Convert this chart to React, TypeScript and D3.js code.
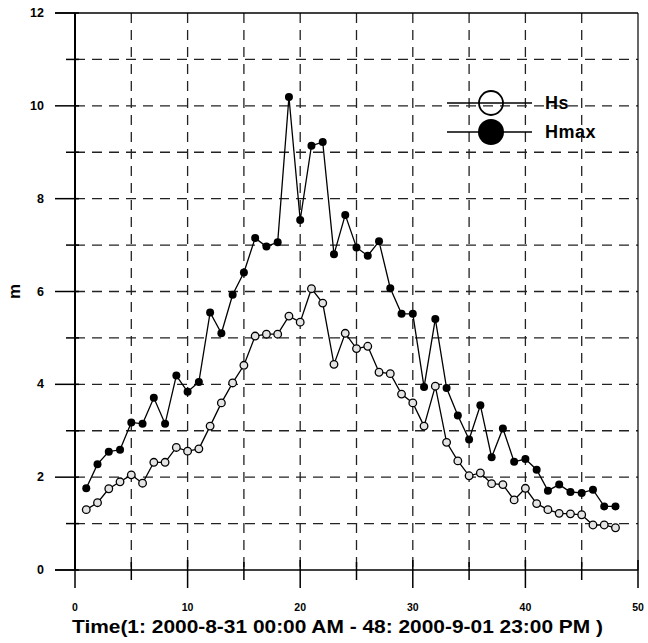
import * as d3 from "d3";

const hours = d3.range(1, 49);

const hmax = [
  1.76, 2.28, 2.55, 2.59, 3.18, 3.15, 3.71, 3.15, 4.19, 3.84,
  4.05, 5.55, 5.1, 5.93, 6.41, 7.15, 6.97, 7.06, 10.19, 7.54,
  9.14, 9.22, 6.8, 7.65, 6.95, 6.77, 7.08, 6.07, 5.52, 5.52,
  3.94, 5.41, 3.92, 3.33, 2.81, 3.55, 2.43, 3.05, 2.33, 2.39,
  2.16, 1.71, 1.84, 1.68, 1.66, 1.73, 1.37, 1.37,
];

const hs = [
  1.3, 1.45, 1.75, 1.9, 2.05, 1.87, 2.32, 2.32, 2.64, 2.56,
  2.61, 3.1, 3.6, 4.03, 4.41, 5.04, 5.08, 5.08, 5.47, 5.34,
  6.06, 5.75, 4.43, 5.1, 4.77, 4.82, 4.26, 4.23, 3.79, 3.6,
  3.1, 3.96, 2.75, 2.35, 2.03, 2.09, 1.86, 1.84, 1.51, 1.76,
  1.43, 1.3, 1.22, 1.21, 1.19, 0.97, 0.97, 0.91,
];

const xTickLabels = [0, 10, 20, 30, 40, 50];
const yTickLabels = [0, 2, 4, 6, 8, 10, 12];

const width = 648;
const height = 643;
const font = "'Liberation Sans', Arial, sans-serif";

export default function App() {
  const x = d3.scaleLinear().domain([0, 50]).range([75, 638]);
  const y = d3.scaleLinear().domain([0, 12]).range([570, 13]);

  const line = d3
    .line<number>()
    .x((_, i) => x(hours[i]))
    .y((d) => y(d));

  const xGrid = d3.range(5, 50, 5);
  const yGrid = d3.range(1, 12, 1);

  return (
    <svg
      width={width}
      height={height}
      style={{ position: "absolute", left: 0, top: 0, background: "#fff" }}
    >
      {/* grid */}
      <g stroke="#222" strokeWidth={1.3} strokeDasharray="10 7">
        {xGrid.map((v) => (
          <line key={"gx" + v} x1={x(v)} x2={x(v)} y1={y(12)} y2={y(0)} />
        ))}
        {yGrid.map((v) => (
          <line key={"gy" + v} x1={x(0)} x2={x(50)} y1={y(v)} y2={y(v)} />
        ))}
      </g>

      {/* frame */}
      <g stroke="#000" fill="none">
        <line x1={x(0) - 20} x2={x(50)} y1={y(12)} y2={y(12)} strokeWidth={1.5} />
        <line x1={x(50)} x2={x(50)} y1={y(12)} y2={y(0)} strokeWidth={1.2} />
        <line x1={x(0)} x2={x(0)} y1={y(12)} y2={y(0)} strokeWidth={2} />
        <line x1={x(0) - 20} x2={x(50)} y1={y(0)} y2={y(0)} strokeWidth={1.5} />
      </g>

      {/* y ticks */}
      <g stroke="#000" strokeWidth={1.5}>
        {d3.range(0, 13).map((v) => (
          <line
            key={"yt" + v}
            x1={x(0) - (v % 2 === 0 ? 20 : 9)}
            x2={x(0) + 4}
            y1={y(v)}
            y2={y(v)}
          />
        ))}
      </g>
      {/* x ticks */}
      <g stroke="#000" strokeWidth={1.5}>
        {d3.range(0, 51, 5).map((v) => (
          <line
            key={"xt" + v}
            x1={x(v)}
            x2={x(v)}
            y1={y(0) - (v % 10 === 0 ? 10 : 8)}
            y2={y(0) + (v % 10 === 0 ? 18 : 10)}
          />
        ))}
      </g>

      <g fontFamily={font} fontWeight="bold" fill="#000">
        {yTickLabels.map((v) => (
          <text
            key={"yl" + v}
            x={x(0) - 31}
            y={y(v)}
            textAnchor="end"
            dominantBaseline="central"
            fontSize={12.5}
          >
            {v}
          </text>
        ))}
        {xTickLabels.map((v) => (
          <text key={"xl" + v} x={x(v)} y={611} textAnchor="middle" fontSize={10.5}>
            {v}
          </text>
        ))}
      </g>

      <text
        x={72}
        y={633}
        fontFamily={font}
        fontWeight="bold"
        fontSize={19}
        textLength={531}
        lengthAdjust="spacingAndGlyphs"
      >
        Time(1: 2000-8-31 00:00 AM  -  48: 2000-9-01 23:00 PM )
      </text>
      <text
        transform={`translate(20,${y(6)}) rotate(-90)`}
        textAnchor="middle"
        fontFamily={font}
        fontWeight="bold"
        fontSize={17}
      >
        m
      </text>

      {/* series */}
      <path d={line(hmax) ?? ""} fill="none" stroke="#000" strokeWidth={1.3} />
      <path d={line(hs) ?? ""} fill="none" stroke="#000" strokeWidth={1.3} />
      {hmax.map((v, i) => (
        <circle key={"hm" + i} cx={x(hours[i])} cy={y(v)} r={4} fill="#000" />
      ))}
      {hs.map((v, i) => (
        <circle
          key={"hs" + i}
          cx={x(hours[i])}
          cy={y(v)}
          r={3.8}
          fill="#e4e4e4"
          stroke="#000"
          strokeWidth={1.3}
        />
      ))}

      {/* legend */}
      <g>
        <line x1={447} x2={532} y1={103} y2={103} stroke="#000" strokeWidth={1.3} />
        <circle cx={491} cy={103} r={12} fill="none" stroke="#000" strokeWidth={1.8} />
        <line x1={447} x2={532} y1={132} y2={132} stroke="#000" strokeWidth={1.3} />
        <circle cx={491} cy={132} r={13} fill="#000" />
        <text
          x={545}
          y={109}
          fontFamily={font}
          fontWeight="bold"
          fontSize={18}
          letterSpacing={0.5}
        >
          Hs
        </text>
        <text
          x={545}
          y={138}
          fontFamily={font}
          fontWeight="bold"
          fontSize={18}
          letterSpacing={0.5}
        >
          Hmax
        </text>
      </g>
    </svg>
  );
}
